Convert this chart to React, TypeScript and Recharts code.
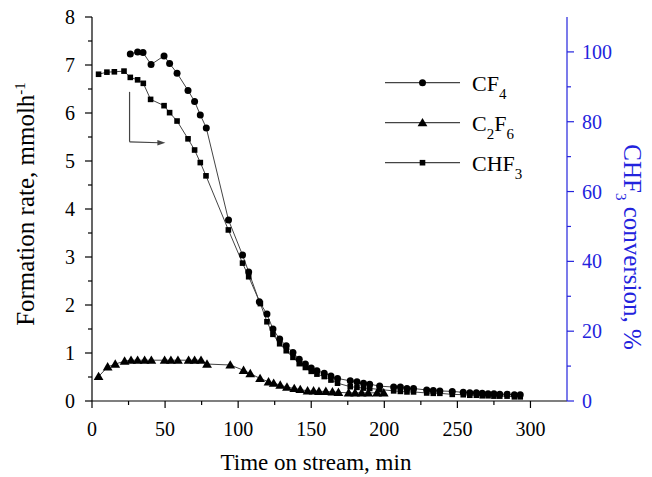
import React from 'react';
import { LineChart, Line, XAxis, YAxis, ReferenceLine } from 'recharts';

// ---------- data ----------
const cf4Time = [26.2, 31.2, 34.9, 40.4, 49.3, 53.1, 58.2, 65.7, 70.2, 74.1, 78.2, 93.4, 103, 107.2, 114.5, 119.7, 123.8, 128.4, 132.9, 137.5, 141.8, 146, 150, 153.9, 158.9, 163.5, 168, 176.7, 181.3, 185.8, 190, 196.8, 206.4, 211, 215.5, 220, 229, 233.5, 238, 246.5, 254, 258.5, 263, 267, 271, 275, 279, 284, 289, 293];
const cf4Rate = [7.23, 7.27, 7.26, 7.01, 7.19, 7.03, 6.83, 6.47, 6.24, 5.96, 5.69, 3.77, 3.04, 2.69, 2.07, 1.81, 1.5, 1.29, 1.15, 1.01, 0.87, 0.77, 0.69, 0.63, 0.58, 0.52, 0.47, 0.42, 0.4, 0.37, 0.35, 0.31, 0.29, 0.29, 0.26, 0.26, 0.23, 0.22, 0.21, 0.2, 0.18, 0.17, 0.17, 0.16, 0.15, 0.15, 0.14, 0.14, 0.13, 0.13];

const c2f6Time = [4.5, 10.7, 15.9, 22.3, 26.7, 31.2, 36, 40.6, 49.7, 54, 58.8, 66.1, 70.2, 74.6, 78.7, 94.6, 103.7, 108.3, 115, 120.8, 124.3, 128.8, 133.4, 138.4, 142.5, 147.5, 151.6, 155.3, 160, 164.5, 168.6, 175.6, 180, 184.5, 189, 195, 199.6];
const c2f6Rate = [0.51, 0.71, 0.77, 0.83, 0.85, 0.85, 0.85, 0.85, 0.85, 0.85, 0.85, 0.85, 0.85, 0.85, 0.77, 0.75, 0.64, 0.57, 0.47, 0.4, 0.37, 0.33, 0.29, 0.26, 0.24, 0.21, 0.21, 0.2, 0.2, 0.19, 0.18, 0.17, 0.17, 0.17, 0.17, 0.17, 0.17];

const chf3Time = [4.5, 10.2, 15.3, 21.9, 26.2, 31.2, 35.1, 40.1, 49.3, 53.1, 58.2, 65.7, 70.2, 74.1, 78, 93.3, 103, 107.2, 115.2, 119.7, 123.8, 128.4, 132.9, 137.5, 141.8, 146, 150, 153.9, 158.9, 163.5, 168, 176.7, 181.3, 185.8, 190, 196.8, 206.4, 211, 215.5, 220, 229, 233.5, 238, 246.5, 254, 258.5, 263, 267, 271, 275, 279, 284, 289, 293];
const chf3Conversion = [93.6, 94.2, 94.3, 94.5, 92.7, 92.0, 91.0, 86.4, 84.6, 82.6, 80.2, 75.1, 71.9, 68.3, 64.5, 49.0, 39.5, 35.6, 27.9, 22.7, 19.1, 16.4, 14.4, 12.5, 10.7, 9.6, 8.5, 7.7, 7.0, 6.0, 5.1, 4.1, 3.9, 3.7, 3.6, 3.3, 2.9, 2.75, 2.6, 2.6, 2.3, 2.2, 2.2, 1.9, 1.8, 1.65, 1.65, 1.5, 1.5, 1.4, 1.4, 1.4, 1.2, 1.2];

const xTicks = [0, 25, 50, 75, 100, 125, 150, 175, 200, 225, 250, 275, 300];
const leftTicks = [0, 0.5, 1, 1.5, 2, 2.5, 3, 3.5, 4, 4.5, 5, 5.5, 6, 6.5, 7, 7.5, 8];
const rightTicks = [0, 10, 20, 30, 40, 50, 60, 70, 80, 90, 100];

const cf4Data = cf4Time.map((t, i) => ({ time: t, value: cf4Rate[i] }));
const c2f6Data = c2f6Time.map((t, i) => ({ time: t, value: c2f6Rate[i] }));
const chf3Data = chf3Time.map((t, i) => ({ time: t, value: chf3Conversion[i] }));

// ---------- styles ----------
const FONT = "'Liberation Serif', 'Times New Roman', serif";
const BLUE = '#2323dd';
const LINE = '#444';

const BottomTick = (p: any) => {
  const major = p.payload.value % 50 === 0;
  return (
    <g>
      <line x1={p.x} y1={p.y} x2={p.x} y2={p.y + (major ? 7 : 4)} stroke="#000" strokeWidth={1.2} />
      {major && (
        <text x={p.x} y={p.y + 35} textAnchor="middle" fontSize={20} fontFamily={FONT} fill="#000">
          {p.payload.value}
        </text>
      )}
    </g>
  );
};

const TopTick = (p: any) => {
  const major = p.payload.value % 50 === 0;
  return <line x1={p.x} y1={p.y} x2={p.x} y2={p.y + (major ? 7 : 4)} stroke="#000" strokeWidth={1.2} />;
};

const LeftTick = (p: any) => {
  const v = p.payload.value;
  const major = Number.isInteger(v);
  return (
    <g>
      <line x1={p.x} y1={p.y} x2={p.x - (major ? 7 : 4)} y2={p.y} stroke="#000" strokeWidth={1.2} />
      {major && (
        <text x={p.x - 17} y={p.y + 7} textAnchor="end" fontSize={20} fontFamily={FONT} fill="#000">
          {v}
        </text>
      )}
    </g>
  );
};

const RightTick = (p: any) => {
  const v = p.payload.value;
  const major = v % 20 === 0;
  return (
    <g>
      <line x1={p.x} y1={p.y} x2={p.x + (major ? 7 : 4)} y2={p.y} stroke={BLUE} strokeWidth={1.2} />
      {major && (
        <text x={p.x + 15} y={p.y + 7} textAnchor="start" fontSize={20} fontFamily={FONT} fill={BLUE}>
          {v}
        </text>
      )}
    </g>
  );
};

const CircleDot = (p: any) =>
  p.cx == null || p.cy == null ? <g key={p.key} /> : <circle key={p.key} cx={p.cx} cy={p.cy} r={3.5} fill="#000" />;
const SquareDot = (p: any) =>
  p.cx == null || p.cy == null ? <g key={p.key} /> : <rect key={p.key} x={p.cx - 2.8} y={p.cy - 2.8} width={5.6} height={5.6} fill="#000" />;
const TriangleDot = (p: any) =>
  p.cx == null || p.cy == null ? (
    <g key={p.key} />
  ) : (
    <polygon key={p.key} points={`${p.cx},${p.cy - 4.8} ${p.cx - 4.9},${p.cy + 3.6} ${p.cx + 4.9},${p.cy + 3.6}`} fill="#000" />
  );

const XTitle = () => (
  <text x={316} y={470} textAnchor="middle" fontSize={23} fontFamily={FONT} fill="#000">
    Time on stream, min
  </text>
);

const LeftTitle = () => (
  <text transform="translate(34,204) rotate(-90)" textAnchor="middle" fontSize={25} fontFamily={FONT} fill="#000">
    Formation rate, mmolh
    <tspan dy={-9} fontSize={15}>-1</tspan>
  </text>
);

const RightTitle = () => (
  <text transform="translate(624,247) rotate(90)" textAnchor="middle" fontSize={25} fontFamily={FONT} fill={BLUE}>
    CHF<tspan dy={8} fontSize={15}>3</tspan>
    <tspan dy={-8}> conversion, %</tspan>
  </text>
);

const ArrowShape = (p: any) => {
  const { x1, y1, x2, y2 } = p;
  return (
    <g>
      <line x1={x1} y1={y1} x2={x2 - 6} y2={y2} stroke={LINE} strokeWidth={1.2} />
      <polygon points={`${x2},${y2} ${x2 - 8},${y2 - 2.8} ${x2 - 8},${y2 + 2.8}`} fill={LINE} />
    </g>
  );
};

const legendRows = [
  { key: 'cf4', parts: [['CF', ''], ['4', 'sub']], marker: 'circle' },
  { key: 'c2f6', parts: [['C', ''], ['2', 'sub'], ['F', ''], ['6', 'sub']], marker: 'triangle' },
  { key: 'chf3', parts: [['CHF', ''], ['3', 'sub']], marker: 'square' },
];

const LegendBox = () => (
  <svg width={200} height={130} style={{ position: 'absolute', left: 378, top: 63, overflow: 'visible' }}>
    {legendRows.map((r, i) => {
      const y = 19.7 + i * 40;
      const cx = 44.5;
      return (
        <g key={r.key}>
          <line x1={7} y1={y} x2={82} y2={y} stroke={LINE} strokeWidth={1.2} />
          {r.marker === 'circle' && <circle cx={cx} cy={y} r={3.5} fill="#000" />}
          {r.marker === 'square' && <rect x={cx - 2.8} y={y - 2.8} width={5.6} height={5.6} fill="#000" />}
          {r.marker === 'triangle' && (
            <polygon points={`${cx},${y - 4.8} ${cx - 4.9},${y + 3.6} ${cx + 4.9},${y + 3.6}`} fill="#000" />
          )}
          <text x={94} y={y + 8} fontSize={22} fontFamily={FONT} fill="#000">
            {r.parts.map(([txt, kind], j) => {
              const prevSub = j > 0 && r.parts[j - 1][1] === 'sub';
              if (kind === 'sub')
                return (
                  <tspan key={j} dy={8} fontSize={15}>
                    {txt}
                  </tspan>
                );
              return (
                <tspan key={j} dy={prevSub ? -8 : 0}>
                  {txt}
                </tspan>
              );
            })}
          </text>
        </g>
      );
    })}
  </svg>
);

export default function App() {
  return (
    <div style={{ position: 'relative', width: 652, height: 477, margin: '-8px 0 0 -8px' }}>
      <LineChart width={652} height={477} margin={{ top: 17, right: 0, bottom: 0, left: 0 }}>
        <XAxis
          xAxisId="bottom"
          dataKey="time"
          type="number"
          domain={[0, 325]}
          ticks={xTicks}
          interval={0}
          allowDataOverflow
          height={76}
          tickSize={0}
          tickMargin={0}
          tickLine={false}
          tick={(p: any) => <BottomTick {...p} />}
          axisLine={{ stroke: '#000', strokeWidth: 1.2 }}
          label={{ content: XTitle }}
        />
        <XAxis
          xAxisId="top"
          orientation="top"
          dataKey="time"
          type="number"
          domain={[0, 325]}
          ticks={xTicks}
          interval={0}
          allowDataOverflow
          height={0}
          tickSize={0}
          tickMargin={0}
          tickLine={false}
          tick={(p: any) => <TopTick {...p} />}
          axisLine={{ stroke: '#000', strokeWidth: 1.2 }}
        />
        <YAxis
          yAxisId="left"
          type="number"
          domain={[0, 8]}
          ticks={leftTicks}
          interval={0}
          allowDataOverflow
          width={92}
          tickSize={0}
          tickMargin={0}
          tickLine={false}
          tick={(p: any) => <LeftTick {...p} />}
          axisLine={{ stroke: '#000', strokeWidth: 1.2 }}
          label={{ content: LeftTitle }}
        />
        <YAxis
          yAxisId="right"
          orientation="right"
          type="number"
          domain={[0, 110]}
          ticks={rightTicks}
          interval={0}
          allowDataOverflow
          width={85}
          tickSize={0}
          tickMargin={0}
          tickLine={false}
          tick={(p: any) => <RightTick {...p} />}
          axisLine={{ stroke: BLUE, strokeWidth: 1.2 }}
          label={{ content: RightTitle }}
        />
        <ReferenceLine
          xAxisId="bottom"
          yAxisId="left"
          segment={[{ x: 25.7, y: 6.44 }, { x: 25.7, y: 5.4 }]}
          stroke={LINE}
          strokeWidth={1.2}
        />
        <ReferenceLine
          xAxisId="bottom"
          yAxisId="left"
          segment={[{ x: 25.7, y: 5.4 }, { x: 50.2, y: 5.38 }]}
          stroke={LINE}
          shape={ArrowShape}
        />
        <Line
          xAxisId="bottom"
          yAxisId="left"
          data={cf4Data}
          dataKey="value"
          type="linear"
          stroke={LINE}
          strokeWidth={1}
          dot={CircleDot}
          activeDot={false}
          isAnimationActive={false}
        />
        <Line
          xAxisId="bottom"
          yAxisId="left"
          data={c2f6Data}
          dataKey="value"
          type="linear"
          stroke={LINE}
          strokeWidth={1}
          dot={TriangleDot}
          activeDot={false}
          isAnimationActive={false}
        />
        <Line
          xAxisId="bottom"
          yAxisId="right"
          data={chf3Data}
          dataKey="value"
          type="linear"
          stroke={LINE}
          strokeWidth={1}
          dot={SquareDot}
          activeDot={false}
          isAnimationActive={false}
        />
      </LineChart>
      <LegendBox />
    </div>
  );
}
